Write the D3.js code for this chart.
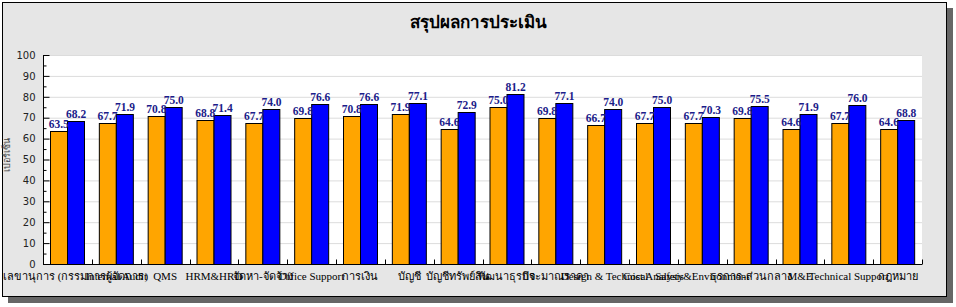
<!DOCTYPE html>
<html>
<head>
<meta charset="utf-8">
<script src="https://cdn.jsdelivr.net/npm/d3@7"></script>
<style>
  body { margin: 0; background: #fff; }
  svg { display: block; }
</style>
</head>
<body>
<div id="chart"></div>
<script>
// data
var categories = ["เลขานุการ (กรรมการผู้จัดการ)", "Internal Audit", "QMS", "HRM&HRD", "จัดหา-จัดจ้าง",
    "Office Support", "การเงิน", "บัญชี", "บัญชีทรัพย์สิน", "พัฒนาธุรกิจ", "ประมาณราคา",
    "Design & Technical", "Cost Analysis", "Safety&Environment", "ธุรการ-ส่วนกลาง", "M&E",
    "Technical Support", "กฎหมาย"];
var series1 = [63.5, 67.7, 70.8, 68.8, 67.7, 69.8, 70.8, 71.9, 64.6, 75.0, 69.8, 66.7, 67.7, 67.7, 69.8, 64.6, 67.7, 64.6];
var series2 = [68.2, 71.9, 75.0, 71.4, 74.0, 76.6, 76.6, 77.1, 72.9, 81.2, 77.1, 74.0, 75.0, 70.3, 75.5, 71.9, 76.0, 68.8];
var yTicks = [0, 10, 20, 30, 40, 50, 60, 70, 80, 90, 100];
var yMinor = [5, 15, 25, 35, 45, 55, 65, 75, 85, 95];
var title = "สรุปผลการประเมิน";
var yTitle = "เปอร์เซ็น";

var W = 956, H = 307;
var plot = { left: 43, right: 922, top: 55, bottom: 264 };
var colors = ["#FFA500", "#0000FF"];

var svg = d3.select("#chart").append("svg")
    .attr("width", W)
    .attr("height", H);

// panel with drop shadow
svg.append("rect").attr("x", 8).attr("y", 8).attr("width", 945).attr("height", 295).attr("fill", "#666");
svg.append("rect").attr("x", 2.5).attr("y", 2.5).attr("width", 944).attr("height", 294)
    .attr("fill", "#e6e6e6").attr("stroke", "#000");

// plot background
svg.append("rect")
    .attr("x", plot.left).attr("y", plot.top)
    .attr("width", plot.right - plot.left).attr("height", plot.bottom - plot.top)
    .attr("fill", "#fff");

var y = d3.scaleLinear().domain([0, 100]).range([plot.bottom, plot.top]);
var x0 = d3.scaleBand().domain(categories).range([plot.left, plot.right]);
var bw = x0.bandwidth();
var x1 = d3.scaleBand().domain([0, 1]).range([7, bw - 7]);

// grid lines
svg.append("g").selectAll("line")
    .data(yTicks.slice(1))
    .enter().append("line")
    .attr("x1", plot.left).attr("x2", plot.right)
    .attr("y1", function (d) { return y(d) + 0.5; })
    .attr("y2", function (d) { return y(d) + 0.5; })
    .attr("stroke", "#dcdcdc");

// bars
var groups = svg.append("g").selectAll("g")
    .data(categories)
    .enter().append("g")
    .attr("transform", function (d) { return "translate(" + x0(d) + ",0)"; });

[series1, series2].forEach(function (vals, s) {
    groups.append("rect")
        .attr("x", function (d, i) { return Math.round(x1(s)) + 0.5; })
        .attr("y", function (d, i) { return Math.round(y(vals[i])) + 0.5; })
        .attr("width", Math.round(x1.bandwidth()))
        .attr("height", function (d, i) { return Math.round(y(0)) - Math.round(y(vals[i])); })
        .attr("fill", colors[s])
        .attr("stroke", "#000");
});

// value labels
[series1, series2].forEach(function (vals, s) {
    groups.append("text")
        .attr("x", function () { return x1(s) + x1.bandwidth() / 2; })
        .attr("y", function (d, i) { return y(vals[i]) - 3; })
        .attr("text-anchor", "middle")
        .style("font-family", "'Liberation Serif', serif")
        .style("font-weight", "bold")
        .style("font-size", "11.5px")
        .style("fill", "#1c1c8a")
        .text(function (d, i) { return vals[i].toFixed(1); });
});

// y axis
var yAxis = svg.append("g")
    .attr("transform", "translate(" + (plot.left + 0.5) + ",0)")
    .call(d3.axisLeft(y).tickValues(yTicks).tickSize(-6).tickPadding(8));
yAxis.select(".domain").attr("d", "M0," + plot.top + "V" + (plot.bottom + 0.5));
yAxis.selectAll("text")
    .style("font-family", "'DejaVu Sans', sans-serif")
    .style("font-size", "10px")
    .style("fill", "#222");
svg.append("g")
    .attr("transform", "translate(" + (plot.left + 0.5) + ",0)")
    .call(d3.axisLeft(y).tickValues(yMinor).tickSize(-3).tickFormat(""))
    .select(".domain").remove();

// x axis
var xAxis = svg.append("g")
    .attr("transform", "translate(0," + (plot.bottom + 0.5) + ")");
xAxis.append("line")
    .attr("x1", plot.left).attr("x2", plot.right)
    .attr("stroke", "#000");
xAxis.selectAll(".tk")
    .data(categories)
    .enter().append("line")
    .attr("class", "tk")
    .attr("x1", function (d) { return Math.round(x0(d) + bw) + 0.5; })
    .attr("x2", function (d) { return Math.round(x0(d) + bw) + 0.5; })
    .attr("y1", 0).attr("y2", -5)
    .attr("stroke", "#000");
xAxis.selectAll("text")
    .data(categories)
    .enter().append("text")
    .attr("x", function (d) { return x0(d) + bw / 2; })
    .attr("y", 15)
    .attr("text-anchor", "middle")
    .style("font-family", "'Liberation Serif', serif")
    .style("font-size", "11px")
    .style("fill", "#000")
    .text(function (d) { return d; })
    .each(function () {
        // keep the widest label inside the panel
        var b = this.getBBox();
        if (b.x < 3) d3.select(this).attr("x", +d3.select(this).attr("x") + (3 - b.x));
    });

// titles
svg.append("text")
    .attr("x", 478).attr("y", 28)
    .attr("text-anchor", "middle")
    .style("font-family", "'Liberation Serif', serif")
    .style("font-weight", "bold")
    .style("font-size", "17px")
    .text(title);

svg.append("text")
    .attr("transform", "translate(10,155) rotate(-90)")
    .attr("text-anchor", "middle")
    .style("font-family", "'Liberation Serif', serif")
    .style("font-size", "9px")
    .style("fill", "#444")
    .text(yTitle);
</script>
</body>
</html>
